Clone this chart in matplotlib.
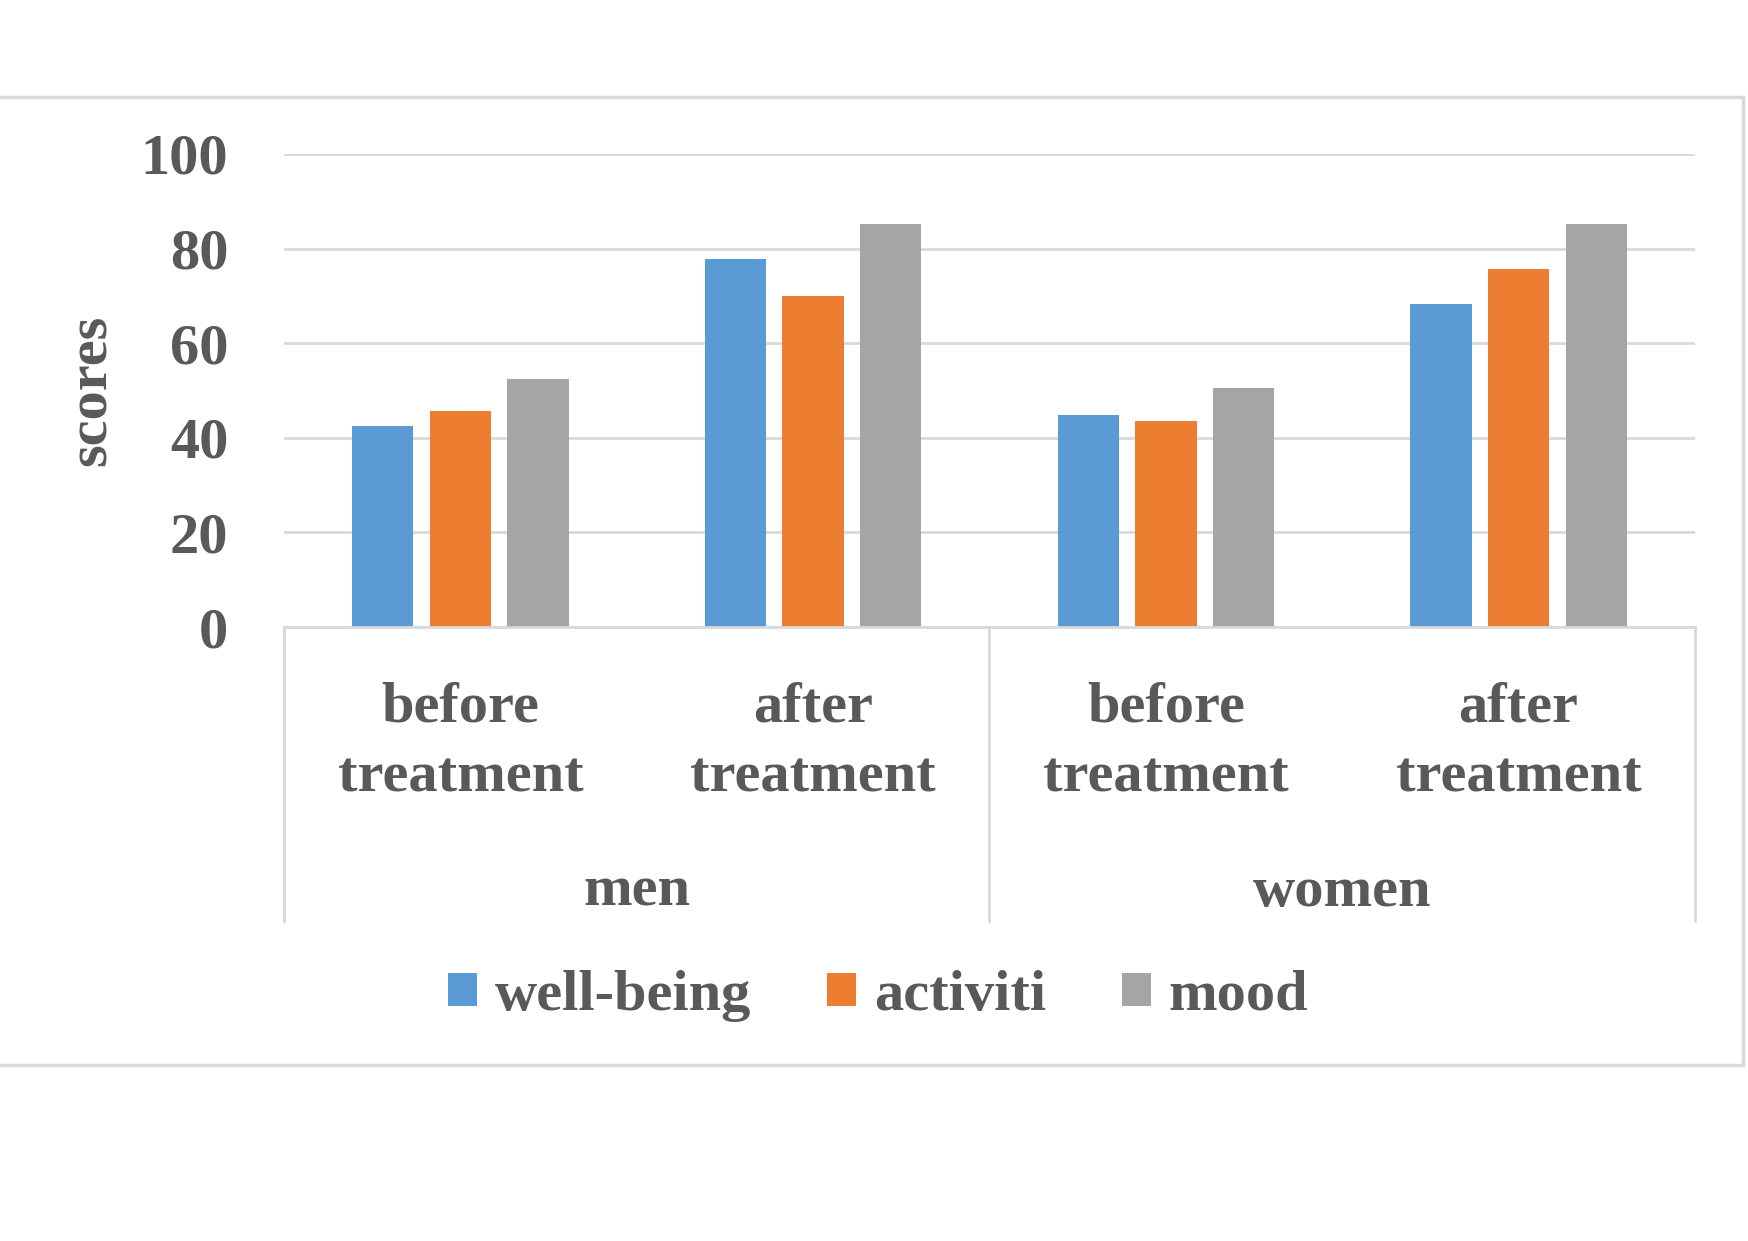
#!/usr/bin/env python3
import numpy as np
import matplotlib
matplotlib.use('Agg')
import matplotlib.pyplot as plt
from matplotlib.patches import Patch, Rectangle

CATEGORIES = ['before\ntreatment', 'after\ntreatment', 'before\ntreatment', 'after\ntreatment']
GROUPS = ['men', 'women']
SERIES = ['well-being', 'activiti', 'mood']
WELL_BEING = [42.5, 77.8, 44.8, 68.2]
ACTIVITI = [45.7, 70.0, 43.6, 75.7]
MOOD = [52.4, 85.1, 50.5, 85.1]
COLORS = ['#5B9BD5', '#ED7D31', '#A5A5A5']

TEXT = '#595959'
GRID = '#D9D9D9'
FS = 42
plt.rcParams['font.family'] = ['Liberation Serif', 'DejaVu Serif']
plt.rcParams['font.weight'] = 'bold'

W, H = 1749, 1241
fig = plt.figure(figsize=(W/100, H/100), dpi=100)

# outer chart frame
fig.patches.append(Rectangle((-0.01, 1 - 1065/H), 1743/W + 0.01, (1065 - 97)/H,
                             transform=fig.transFigure, fill=False,
                             edgecolor=GRID, lw=2.5))

left, right, top, bottom = 284, 1695, 154, 627
ax = fig.add_axes([left/W, 1 - bottom/H, (right - left)/W, (bottom - top)/H])

x = np.arange(len(CATEGORIES))
width = 0.174
step = 0.22
for i, (vals, name) in enumerate(zip([WELL_BEING, ACTIVITI, MOOD], SERIES)):
    ax.bar(x + (i - 1)*step, vals, width, color=COLORS[i], label=name, zorder=3)

ax.set_xlim(-0.5, 3.5)
ax.set_ylim(0, 100)
ax.set_yticks(range(0, 101, 20))
ax.yaxis.grid(True, color=GRID, lw=2, zorder=0)
ax.set_axisbelow(True)
for s in ax.spines.values():
    s.set_visible(False)
ax.tick_params(axis='y', length=0, pad=40, labelsize=FS, labelcolor=TEXT)
ax.tick_params(axis='x', length=0, labelbottom=False)
ax.set_ylabel('scores', fontsize=FS, color=TEXT, fontweight='bold')
ax.yaxis.set_label_coords(-0.118, 0.5)

# category axis box
depth = (921 - bottom)/(bottom - top)
kw = dict(transform=ax.transAxes, clip_on=False, color=GRID, lw=2, zorder=4)
ax.plot([0, 1], [0, 0], **kw)
for xv in [0, 0.5, 1]:
    ax.plot([xv, xv], [0, -depth], **kw)

tr = ax.get_xaxis_transform()
for xi, lab in zip(x, CATEGORIES):
    ax.text(xi, -(743 - bottom)/(bottom - top), lab, transform=tr, ha='center',
            va='center', multialignment='center', fontsize=FS, color=TEXT,
            linespacing=1.45)
for gi, g in enumerate(GROUPS):
    ax.text(gi*2 + 0.5, -(892 - bottom)/(bottom - top), g, transform=tr,
            ha='center', va='center', fontsize=FS, color=TEXT)

handles = [Patch(facecolor=c, edgecolor='none') for c in COLORS]
leg = fig.legend(handles, SERIES, loc='center', bbox_to_anchor=(0.502, 1 - 996/H),
                 ncol=3, frameon=False, fontsize=FS, handlelength=0.5,
                 handleheight=0.5, handletextpad=0.3, columnspacing=1.3)
for t in leg.get_texts():
    t.set_color(TEXT)

fig.savefig('out.png', dpi=100, facecolor='white')
